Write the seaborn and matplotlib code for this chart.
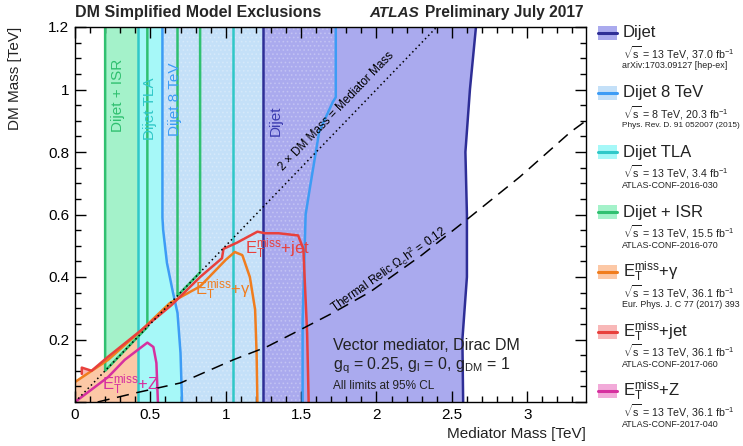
import matplotlib
matplotlib.use("Agg")
import numpy as np
import pandas as pd
import seaborn as sns
import matplotlib.pyplot as plt
from matplotlib.patches import Rectangle
from matplotlib.lines import Line2D
from matplotlib.ticker import MultipleLocator, FixedLocator, FixedFormatter

# ---------------- data ----------------
dijet_left_x = [1.25, 1.25]
dijet_left_y = [0.0, 1.2]
dijet_right_x = [2.575, 2.57, 2.60, 2.60, 2.59, 2.62, 2.64, 2.66]
dijet_right_y = [0.0, 0.2, 0.4, 0.6, 0.8, 1.0, 1.1, 1.2]

d8_left_x = [0.71, 0.70, 0.68, 0.65, 0.61, 0.585, 0.58, 0.58]
d8_left_y = [0.0, 0.157, 0.285, 0.35, 0.445, 0.55, 0.59, 1.2]
d8_right_x = [1.51, 1.51, 1.53, 1.56, 1.62, 1.71, 1.73, 1.73]
d8_right_y = [0.0, 0.26, 0.6, 0.69, 0.865, 0.96, 0.975, 1.2]

tla_x = [0.42, 1.05]
isr_windows = [(0.2, 0.48), (0.68, 0.83)]

gamma_x = [0.0, 0.22, 0.43, 0.63, 0.83, 1.0, 1.06, 1.11, 1.16, 1.195, 1.205, 1.21]
gamma_y = [0.064, 0.135, 0.225, 0.317, 0.37, 0.455, 0.48, 0.47, 0.40, 0.295, 0.15, 0.0]

jet_x = [0.045, 0.045, 0.11, 0.22, 0.44, 0.64, 0.83, 0.975, 0.985, 1.075, 1.21, 1.26, 1.35, 1.48, 1.515, 1.525, 1.54, 1.55]
jet_y = [0.09, 0.11, 0.10, 0.145, 0.23, 0.31, 0.40, 0.46, 0.49, 0.51, 0.545, 0.54, 0.54, 0.533, 0.49, 0.38, 0.22, 0.0]

z_x = [0.0, 0.22, 0.33, 0.48, 0.52, 0.54, 0.55]
z_y = [0.0, 0.08, 0.135, 0.19, 0.176, 0.125, 0.0]

diag_x = [0.0, 2.4]
diag_y = [0.0, 1.2]

relic_x = [0.15, 0.41, 0.70, 1.05, 1.27, 1.49, 1.71, 1.96, 2.30, 2.60, 2.95, 3.285, 3.39]
relic_y = [0.0, 0.03, 0.061, 0.135, 0.176, 0.23, 0.285, 0.353, 0.47, 0.584, 0.72, 0.863, 0.90]

x_ticks = [0, 0.5, 1, 1.5, 2, 2.5, 3]
x_ticklabels = ["0", "0.5", "1", "1.5", "2", "2.5", "3"]
y_ticks = [0, 0.2, 0.4, 0.6, 0.8, 1.0, 1.2]
y_ticklabels = ["", "0.2", "0.4", "0.6", "0.8", "1", "1.2"]

leg_names = ["Dijet", "Dijet 8 TeV", "Dijet TLA", "Dijet + ISR",
             r"E$_{\mathrm{T}}^{\mathrm{miss}}$+γ",
             r"E$_{\mathrm{T}}^{\mathrm{miss}}$+jet",
             r"E$_{\mathrm{T}}^{\mathrm{miss}}$+Z"]
leg_sqrts = ["13", "8", "13", "13", "13", "13", "13"]
leg_lumi = ["37.0", "20.3", "3.4", "15.5", "36.1", "36.1", "36.1"]
leg_refs = ["arXiv:1703.09127 [hep-ex]", "Phys. Rev. D. 91 052007 (2015)",
            "ATLAS-CONF-2016-030", "ATLAS-CONF-2016-070",
            "Eur. Phys. J. C 77 (2017) 393", "ATLAS-CONF-2017-060",
            "ATLAS-CONF-2017-040"]

# ---------------- styles ----------------
C = {
    "dijet": ("#2e2e96", "#aaaaee"),
    "d8": ("#3d9cf5", "#c4e0f8"),
    "tla": ("#30c8c8", "#a6f8f8"),
    "isr": ("#30c070", "#a4f2ca"),
    "gam": ("#f07d1e", "#fcc8a6"),
    "jet": ("#e8403c", "#f8b8b8"),
    "z": ("#d6309f", "#f2aad9"),
}
leg_keys = ["dijet", "d8", "tla", "isr", "gam", "jet", "z"]

sns.set_theme(style="ticks")
plt.rcParams["font.family"] = ["Liberation Sans", "DejaVu Sans"]
plt.rcParams["mathtext.fontset"] = "custom"
plt.rcParams["mathtext.rm"] = "Liberation Sans"
plt.rcParams["mathtext.it"] = "Liberation Sans:italic"
plt.rcParams["mathtext.bf"] = "Liberation Sans:bold"
plt.rcParams["hatch.linewidth"] = 0.8

W, H = 743, 446
fig = plt.figure(figsize=(W / 100, H / 100), dpi=100)
ax = fig.add_axes([75 / W, 1 - 402 / H, (586 - 75) / W, (402 - 27) / H])
ax.set_xlim(0, 3.39)
ax.set_ylim(0, 1.2)
ax.set_facecolor("white")

# ---------------- fills ----------------
ax.fill(jet_x + [0.045], jet_y + [0.0], color=C["jet"][1], lw=0, zorder=1.0)
ax.fill(z_x, z_y, color=C["z"][1], lw=0, zorder=1.1)
ax.fill(gamma_x + [0.0], gamma_y + [0.0], color=C["gam"][1], lw=0, zorder=1.2)
for lo, hi in isr_windows:
    xs = np.array([lo, hi])
    ax.fill_between(xs, xs * 0.5, 1.2, color=C["isr"][1], lw=0, zorder=2.0)
ax.fill_between(tla_x, 0, 1.2, color=C["tla"][1], lw=0, zorder=2.1)
ax.fill(d8_left_x + d8_right_x[::-1], d8_left_y + d8_right_y[::-1],
        color=C["d8"][1], lw=0, zorder=2.2)
ax.fill(dijet_left_x + dijet_right_x[::-1], dijet_left_y + dijet_right_y[::-1],
        color=C["dijet"][1], lw=0, zorder=2.3)
ax.fill(d8_left_x + d8_right_x[::-1], d8_left_y + d8_right_y[::-1],
        facecolor="none", edgecolor="white", hatch="....", lw=0, alpha=0.22, zorder=2.4)

# ---------------- lines (seaborn) ----------------
def sline(x, y, color, lw=1.8, z=3, **kw):
    sns.lineplot(x=x, y=y, sort=False, estimator=None, color=color, lw=lw,
                 ax=ax, zorder=z, **kw)

sline(dijet_left_x, dijet_left_y, C["dijet"][0])
sline(dijet_right_x, dijet_right_y, C["dijet"][0])
sline(d8_left_x, d8_left_y, C["d8"][0])
sline(d8_right_x, d8_right_y, C["d8"][0])
for xv in tla_x:
    sline([xv, xv], [0, 1.2], C["tla"][0])
for lo, hi in isr_windows:
    sline([lo, lo, hi, hi], [1.2, lo * 0.5, hi * 0.5, 1.2], C["isr"][0])
sline(gamma_x, gamma_y, C["gam"][0], z=3.2)
sline(jet_x, jet_y, C["jet"][0], z=3.3)
sline(z_x, z_y, C["z"][0], z=3.1)
sline(diag_x, diag_y, "black", lw=1.1, z=3.5, linestyle=(0, (1, 2)))
sline(relic_x, relic_y, "black", lw=1.1, z=3.5, linestyle=(0, (8, 5)))

# ---------------- in-plot labels ----------------
ax.text(0.285, 0.98, "Dijet + ISR", rotation=90, color=C["isr"][0], fontsize=11,
        ha="center", va="center", zorder=5)
ax.text(0.50, 0.94, "Dijet TLA", rotation=90, color=C["tla"][0], fontsize=11,
        ha="center", va="center", zorder=5)
ax.text(0.665, 0.97, "Dijet 8 TeV", rotation=90, color=C["d8"][0], fontsize=11,
        ha="center", va="center", zorder=5)
ax.text(1.335, 0.90, "Dijet", rotation=90, color="#3c3cb0", fontsize=11,
        ha="center", va="center", zorder=5)
ax.text(1.34, 0.49, r"E$_{\mathrm{T}}^{\mathrm{miss}}$+jet", color=C["jet"][0],
        fontsize=12, ha="center", va="center", zorder=5)
ax.text(0.98, 0.36, r"E$_{\mathrm{T}}^{\mathrm{miss}}$+γ", color=C["gam"][0],
        fontsize=12, ha="center", va="center", zorder=5)
ax.text(0.37, 0.055, r"E$_{\mathrm{T}}^{\mathrm{miss}}$+Z", color=C["z"][0],
        fontsize=12, ha="center", va="center", zorder=5)
ax.text(1.735, 0.93, "2 × DM Mass = Mediator Mass", rotation=46, fontsize=8.5,
        ha="center", va="center", zorder=5, color="black")
ax.text(2.08, 0.425, "Thermal Relic Ω$_{\\mathrm{c}}$h$^{2}$ = 0.12", rotation=35,
        fontsize=8.5, ha="center", va="center", zorder=5, color="black")
ax.text(1.71, 0.167, "Vector mediator, Dirac DM", fontsize=11.5, ha="left",
        va="baseline", zorder=5, color="#222222")
ax.text(1.71, 0.105, r"g$_{\mathrm{q}}$ = 0.25, g$_{\mathrm{l}}$ = 0, g$_{\mathrm{DM}}$ = 1",
        fontsize=11.5, ha="left", va="baseline", zorder=5, color="#222222")
ax.text(1.71, 0.042, "All limits at 95% CL", fontsize=8.5, ha="left",
        va="baseline", zorder=5, color="#222222")

# ---------------- axes ----------------
ax.xaxis.set_major_locator(FixedLocator(x_ticks))
ax.xaxis.set_major_formatter(FixedFormatter(x_ticklabels))
ax.yaxis.set_major_locator(FixedLocator(y_ticks))
ax.yaxis.set_major_formatter(FixedFormatter(y_ticklabels))
ax.xaxis.set_minor_locator(MultipleLocator(0.1))
ax.yaxis.set_minor_locator(MultipleLocator(0.05))
ax.tick_params(which="both", direction="in", top=True, right=True, colors="black",
               labelsize=11, pad=4)
ax.tick_params(which="major", length=8, width=1)
ax.tick_params(which="minor", length=4, width=1)
for s in ax.spines.values():
    s.set_visible(True)
    s.set_color("black")
    s.set_linewidth(1.0)
    s.set_zorder(6)
ax.set_xlabel("Mediator Mass [TeV]", fontsize=11, color="#222222")
ax.set_ylabel("DM Mass [TeV]", fontsize=11, color="#222222")
ax.xaxis.set_label_coords(1.0, -0.066)
ax.xaxis.label.set_ha("right")
ax.yaxis.set_label_coords(-0.103, 1.0)
ax.yaxis.label.set_ha("right")
ax.set_axisbelow(False)

# ---------------- title ----------------
fig.text(75 / W, 1 - 13 / H, "DM Simplified Model Exclusions", fontsize=11.5,
         fontweight="bold", ha="left", va="center")
fig.text(369 / W, 1 - 13 / H, "ATLAS", fontsize=11, fontweight="bold",
         fontstyle="italic", ha="left", va="center")
fig.text(425 / W, 1 - 13 / H, "Preliminary July 2017", fontsize=11.2,
         fontweight="bold", ha="left", va="center")

# ---------------- legend (manual) ----------------
leg_y0, leg_dy = 33, 59.7
renderer = fig.canvas.get_renderer()
for i, k in enumerate(leg_keys):
    yc = leg_y0 + i * leg_dy
    fig.add_artist(Rectangle((598 / W, 1 - (yc + 7) / H), 19 / W, 14 / H,
                             transform=fig.transFigure, facecolor=C[k][1],
                             edgecolor="none"))
    fig.add_artist(Line2D([598 / W, 617 / W], [1 - yc / H, 1 - yc / H],
                          transform=fig.transFigure, color=C[k][0], lw=2.2))
    fig.text(623 / W, 1 - yc / H, leg_names[i], fontsize=12, ha="left",
             va="center", color="#222222")
    fig.text(623 / W, 1 - (yc + 20) / H,
             r"$\sqrt{\mathrm{s}}$ = " + leg_sqrts[i] + " TeV, " + leg_lumi[i]
             + r" fb$^{\mathrm{-1}}$", fontsize=7.7, ha="left", va="center",
             color="#222222")
    t = fig.text(622 / W, 1 - (yc + 33) / H, leg_refs[i], fontsize=6.4, ha="left",
                 va="center", color="#222222")
    # shrink a reference line if it would run past the figure edge
    bb = t.get_window_extent(renderer)
    if bb.x1 > W - 2:
        t.set_fontsize(6.4 * (W - 2 - bb.x0) / bb.width)

fig.savefig("out.png", dpi=100)
